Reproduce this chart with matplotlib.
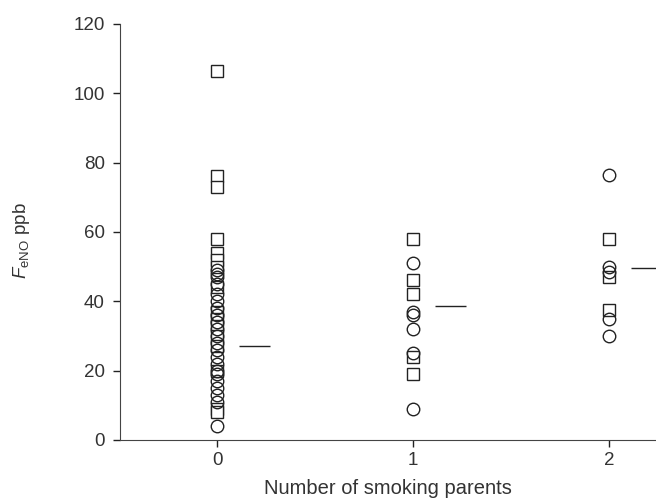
import matplotlib.pyplot as plt

plt.rcParams['font.family'] = ['Liberation Sans', 'DejaVu Sans']
plt.rcParams['mathtext.fontset'] = 'custom'
plt.rcParams['mathtext.rm'] = 'Liberation Sans'
plt.rcParams['mathtext.it'] = 'Liberation Sans:italic'

# Data (FeNO ppb per group)
groups = [0, 1, 2]
squares = [
    [106.5, 76, 73, 58, 54, 52, 50, 44, 37, 35, 33, 30, 27, 20, 9, 8],
    [58, 46, 42, 24, 19],
    [58, 47, 37.5],
]
circles = [
    [49, 48, 47, 45, 42, 40, 38, 36, 34, 32, 30, 28, 26, 24, 22, 20, 19, 17,
     15, 13, 11, 4],
    [51, 37, 36, 32, 25, 9],
    [76.5, 50, 48.5, 35, 30],
]
group_means = [27, 38.5, 49.5]

col = '#222222'
fig = plt.figure(figsize=(6.56, 4.98), dpi=100)
ax = fig.add_axes([0.183, 0.1165, 0.817, 0.8355])

for g in groups:
    ax.plot([g] * len(squares[g]), squares[g], linestyle='none', marker='s',
            markersize=9, markerfacecolor='white', markeredgecolor=col,
            markeredgewidth=1.0, zorder=3)
    ax.plot([g] * len(circles[g]), circles[g], linestyle='none', marker='o',
            markersize=9, markerfacecolor='none', markeredgecolor=col,
            markeredgewidth=1.0, zorder=4)
    ax.hlines(group_means[g], g + 0.11, g + 0.27, color=col, linewidth=1.0)

ax.set_xlim(-0.495, 2.24)
ax.set_ylim(0, 120)
ax.set_xticks(groups)
ax.set_yticks(range(0, 121, 20))
ax.tick_params(direction='out', length=5, width=1, colors=col, labelsize=13.5,
               labelcolor='#333333')
ax.tick_params(axis='y', pad=6)
for s in ['top', 'right']:
    ax.spines[s].set_visible(False)
for s in ['left', 'bottom']:
    ax.spines[s].set_color('#444444')
ax.set_xlabel('Number of smoking parents', fontsize=14.5, color='#333333',
              labelpad=7)
ax.set_ylabel(r'$\mathit{F}_{\mathrm{eNO}}$ ppb', fontsize=13.5,
              color='#333333')
ax.yaxis.set_label_coords(-0.165, 0.48)

plt.savefig('out.png', dpi=100)
